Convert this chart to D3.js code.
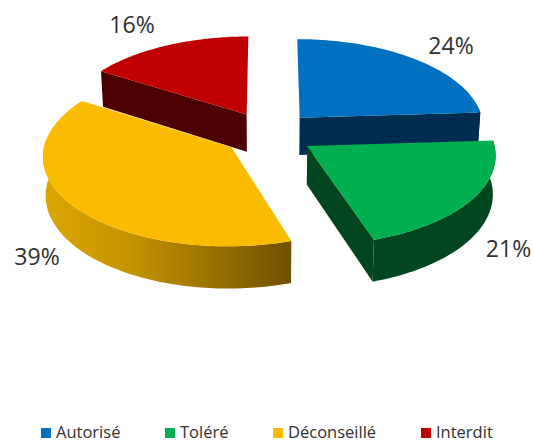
<!DOCTYPE html>
<html>
<head>
<meta charset="utf-8">
<script src="https://cdn.jsdelivr.net/npm/d3@7"></script>
<style>
  html, body { margin: 0; padding: 0; background: #fff; }
  svg { display: block; }
  text { font-family: "Open Sans", sans-serif; }
</style>
</head>
<body>
<div id="viz"></div>
<script>
const categories = ["Autorisé", "Toléré", "Déconseillé", "Interdit"];
const values = [24, 21, 39, 16];
const tops = ["#0070c0", "#00b050", "#fbbc00", "#c00000"];
const walls = ["#002c50", "#00461f", "#6f5000", "#4d0000"];
const labelPos = [[451, 54], [508.5, 257], [37, 265], [132, 33]];
const legendX = [41, 165, 273, 421];

const width = 533, height = 441;
const depth = 38, explode = 0.25, persp = 0.087, converge = 0.012;

const svg = d3.select("#viz").append("svg").attr("width", width).attr("height", height);

const defs = svg.append("defs");
const grad = defs.append("linearGradient").attr("id", "rimYellow")
  .attr("gradientUnits", "userSpaceOnUse")
  .attr("x1", 42).attr("x2", 292).attr("y1", 0).attr("y2", 0);
grad.append("stop").attr("offset", 0).attr("stop-color", "#dca600");
grad.append("stop").attr("offset", 0.35).attr("stop-color", "#c59400");
grad.append("stop").attr("offset", 1).attr("stop-color", "#6f5000");

// world units: pie radius = 1, z goes to the back
const sx = d3.scaleLinear().domain([0, 1]).range([268.5, 453.5]);
const sy = d3.scaleLinear().domain([0, 1]).range([133.5, 45.5]);

function project(x, z, drop) {
  const f = 1 / (1 + persp * z);
  // lower face is a bit narrower, camera looks from above
  const xs = drop ? x * f * (1 - converge) : x * f;
  return [sx(xs), sy(z * f) + (drop ? depth * f : 0)];
}

const pie = d3.pie().sort(null).startAngle(0).endAngle(2 * Math.PI);
const arcs = pie(values);
const line = d3.line();

function slicePoints(a) {
  const mid = (a.startAngle + a.endAngle) / 2;
  const ox = explode * Math.sin(mid), oz = explode * Math.cos(mid);
  const n = 60;
  const angles = d3.range(n + 1).map((i) => a.startAngle + (a.endAngle - a.startAngle) * i / n);
  const at = (t) => [ox + Math.sin(t), oz + Math.cos(t)];
  return {
    apex: [ox, oz],
    rim: angles.map(at),
    // only the part of the outer wall that faces the viewer
    front: angles.filter((t) => Math.cos(t) < 0.15).map(at)
  };
}

function prism(a) {
  const { apex, rim, front } = slicePoints(a);
  const up = (p) => project(p[0], p[1], false);
  const dn = (p) => project(p[0], p[1], true);
  const first = rim[0], last = rim[rim.length - 1];
  return {
    cutA: [up(apex), up(first), dn(first), dn(apex)],
    cutB: [up(apex), up(last), dn(last), dn(apex)],
    showA: Math.sin(a.startAngle) < -1e-6,
    showB: Math.sin(a.endAngle) > 1e-6,
    wall: front.map(up).concat(front.slice().reverse().map(dn)),
    top: [up(apex)].concat(rim.map(up))
  };
}

// back slices first
const order = [3, 0, 2, 1];
order.forEach((i) => {
  const p = prism(arcs[i]);
  const g = svg.append("g");
  const wall = walls[i];
  if (p.showA) g.append("path").attr("d", line(p.cutA) + "Z").attr("fill", wall);
  if (p.showB) g.append("path").attr("d", line(p.cutB) + "Z").attr("fill", wall);
  if (p.wall.length) {
    g.append("path").attr("d", line(p.wall) + "Z")
      .attr("fill", i === 2 ? "url(#rimYellow)" : wall);
  }
  g.append("path").attr("d", line(p.top) + "Z").attr("fill", tops[i]);
});

svg.selectAll("text.pct").data(values).enter().append("text")
  .attr("class", "pct")
  .attr("x", (d, i) => labelPos[i][0])
  .attr("y", (d, i) => labelPos[i][1])
  .attr("text-anchor", "middle")
  .attr("font-size", 23)
  .attr("fill", "#303030")
  .text((d) => d + "%");

const legend = svg.selectAll("g.leg").data(categories).enter().append("g")
  .attr("class", "leg")
  .attr("transform", (d, i) => `translate(${legendX[i]},428)`);
legend.append("rect").attr("width", 10).attr("height", 10).attr("fill", (d, i) => tops[i]);
legend.append("text").attr("x", 15).attr("y", 10)
  .attr("font-size", 16.5).attr("fill", "#303030").text((d) => d);
</script>
</body>
</html>
